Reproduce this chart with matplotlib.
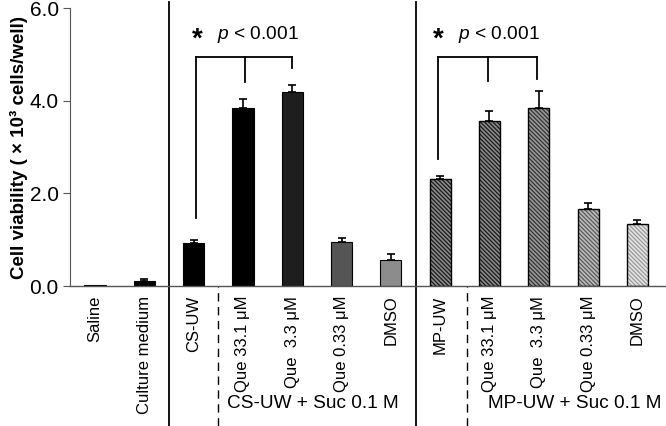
import numpy as np
import matplotlib
matplotlib.use("Agg")
import matplotlib.pyplot as plt
from matplotlib.transforms import blended_transform_factory

plt.rcParams['font.family'] = ['Liberation Sans', 'DejaVu Sans']
plt.rcParams['mathtext.fontset'] = 'custom'
plt.rcParams['mathtext.it'] = 'Liberation Sans:italic'
plt.rcParams['mathtext.rm'] = 'Liberation Sans'
plt.rcParams['hatch.linewidth'] = 0.9

labels = ["Saline", "Culture medium", "CS-UW", "Que 33.1 \u03bcM", "Que  3.3 \u03bcM",
          "Que 0.33 \u03bcM", "DMSO", "MP-UW", "Que 33.1 \u03bcM", "Que  3.3 \u03bcM",
          "Que 0.33 \u03bcM", "DMSO"]
means = [0.02, 0.10, 0.93, 3.84, 4.19, 0.95, 0.57, 2.31, 3.57, 3.84, 1.67, 1.34]
errs = [0.0, 0.05, 0.07, 0.20, 0.14, 0.09, 0.12, 0.07, 0.21, 0.37, 0.13, 0.09]
faces = ['#000000', '#000000', '#000000', '#000000', '#1e1e1e', '#555555', '#8c8c8c',
         '#8a8a8a', '#8a8a8a', '#999999', '#bbbbbb', '#e4e4e4']
hatch_cols = [None] * 7 + ['#1a1a1a', '#1a1a1a', '#333333', '#5a5a5a', '#999999']
group_labels = ["CS-UW + Suc 0.1 M", "MP-UW + Suc 0.1 M"]

x = np.arange(len(labels))
fig = plt.figure(figsize=(6.66, 4.26), dpi=100)
ax = fig.add_axes([0.105, 0.3286, 0.895, 0.6526])

w = 0.43
for i in x:
    if hatch_cols[i] is None:
        ax.bar(i, means[i], w, color=faces[i], edgecolor='#000000', linewidth=0.8, zorder=2)
    else:
        ax.bar(i, means[i], w, color=faces[i], edgecolor=hatch_cols[i],
               hatch='\\\\\\\\\\\\\\\\', linewidth=0, zorder=2)
        ax.bar(i, means[i], w, fill=False, edgecolor='#000000', linewidth=1.0, zorder=3)
    if errs[i] > 0:
        ax.errorbar(i, means[i], yerr=[[0], [errs[i]]], fmt='none', ecolor='#000000',
                    elinewidth=1.2, capsize=3, capthick=1.2, zorder=4)

ax.set_xlim(-0.51, 11.58)
ax.set_ylim(0, 6)
ax.set_yticks([0, 2, 4, 6])
ax.set_yticklabels(["0.0", "2.0", "4.0", "6.0"], fontsize=15)
ax.tick_params(axis='y', length=5, width=0.8, color='#555555', pad=3)
ax.set_xticks(x)
ax.set_xticklabels(labels, rotation=90, fontsize=12, va='top')
ax.tick_params(axis='x', length=0, pad=7)
for s in ['top', 'right']:
    ax.spines[s].set_visible(False)
ax.spines['left'].set_color('#555555')
ax.spines['bottom'].set_color('#555555')
ax.spines['left'].set_linewidth(0.8)
ax.spines['bottom'].set_linewidth(1.0)
ax.set_ylabel("Cell viability ( \u00d7 10\u00b3 cells/well)", fontsize=13.5,
              fontweight='bold', labelpad=1)

# group separators
for xs in [1.5, 6.5]:
    ax.axvline(xs, ymin=-0.505, ymax=1.02, color='#000000', linewidth=1.3, clip_on=False)
for xs in [2.5, 7.55]:
    ax.axvline(xs, ymin=-0.505, ymax=0, color='#000000', linewidth=1.0,
               linestyle=(0, (6, 4)), clip_on=False)

tr = blended_transform_factory(ax.transData, ax.transAxes)
ax.text(2.68, -0.423, group_labels[0], transform=tr, fontsize=13.7, ha='left', va='center')
ax.text(7.96, -0.423, group_labels[1], transform=tr, fontsize=13.7, ha='left', va='center')

# significance brackets
brackets = [
    ([2.05, 3.05, 4.0], [1.47, 4.4, 4.7]),
    ([6.95, 7.97, 8.97], [2.74, 4.43, 4.47]),
]
for xs_b, bottoms in brackets:
    top = 4.95
    ax.plot([xs_b[0], xs_b[-1]], [top, top], color='#000000', linewidth=1.3, zorder=5)
    for xb, yb in zip(xs_b, bottoms):
        ax.plot([xb, xb], [top, yb], color='#000000', linewidth=1.3, zorder=5)
    ax.text(xs_b[0] + 0.02, 5.32, "*", fontsize=20, fontweight='bold',
            ha='center', va='center')
    ax.text(xs_b[0] + 0.42, 5.42, r"$p$ < 0.001", fontsize=13.8, ha='left', va='center')

fig.savefig("out.png", dpi=100)
